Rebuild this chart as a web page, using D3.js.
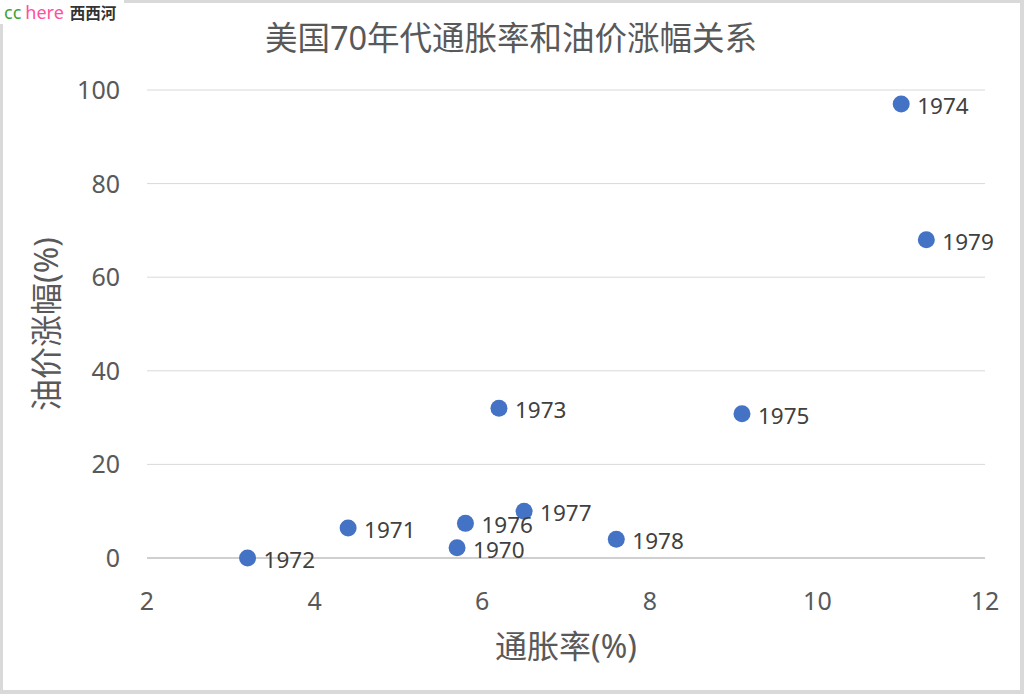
<!DOCTYPE html>
<html><head><meta charset="utf-8">
<script src="https://cdn.jsdelivr.net/npm/d3@7"></script>
<style>
html,body{margin:0;padding:0;background:#fff;}
svg{display:block;}
</style>
</head><body>
<script>
const years = ["1970","1971","1972","1973","1974","1975","1976","1977","1978","1979"];
const inflation = [5.7, 4.4, 3.2, 6.2, 11.0, 9.1, 5.8, 6.5, 7.6, 11.3];
const oilChange = [2.2, 6.4, 0.0, 32.0, 97.0, 30.8, 7.4, 10.0, 4.0, 68.0];
const xTicks = [2, 4, 6, 8, 10, 12];
const yTicks = [0, 20, 40, 60, 80, 100];
const title = "美国70年代通胀率和油价涨幅关系";
const xTitle = "通胀率(%)";
const yTitle = "油价涨幅(%)";

const W = 1024, H = 694;
const FONT = "'Noto Sans','Noto Sans CJK SC',sans-serif";
const svg = d3.select("body").append("svg").attr("width", W).attr("height", H);

// outer frame
svg.append("rect").attr("x",0).attr("y",0).attr("width",W).attr("height",H).attr("fill","#d9d9d9");
svg.append("rect").attr("x",3).attr("y",3).attr("width",1017).attr("height",687).attr("fill","#fff");

// watermark
svg.append("rect").attr("x",0).attr("y",0).attr("width",124).attr("height",24).attr("fill","#fff");
const wm = svg.append("text").attr("x",4).attr("y",19).attr("font-family",FONT).attr("font-size",18);
wm.append("tspan").attr("fill","#3aa335").text("cc");
wm.append("tspan").attr("fill","#ff4f9e").attr("dx",4).text("here");
wm.append("tspan").attr("fill","#333").attr("dx",6).attr("font-weight","bold").attr("font-size",15.5).text("西西河");

const x = d3.scaleLinear().domain([2, 12]).range([147, 985]);
const y = d3.scaleLinear().domain([0, 100]).range([558, 90]);

// gridlines
svg.append("g").selectAll("line").data(yTicks).join("line")
  .attr("x1", x(2)).attr("x2", x(12))
  .attr("y1", d => y(d)).attr("y2", d => y(d))
  .attr("stroke-width", d => d === 0 ? 1.5 : 1)
  .attr("stroke", d => d === 0 ? "#bfbfbf" : "#d9d9d9");

// y tick labels
svg.append("g").selectAll("text").data(yTicks).join("text")
  .attr("x", 120).attr("y", d => y(d)).attr("dy", "0.36em")
  .attr("text-anchor", "end").attr("font-family", FONT).attr("font-size", 25)
  .attr("fill", "#595959").text(d => d);

// x tick labels
svg.append("g").selectAll("text").data(xTicks).join("text")
  .attr("x", d => x(d)).attr("y", 610)
  .attr("text-anchor", "middle").attr("font-family", FONT).attr("font-size", 25)
  .attr("fill", "#595959").text(d => d);

// title
svg.append("text").attr("x", 511).attr("y", 50).attr("text-anchor","middle")
  .attr("font-family", FONT).attr("font-size", 32.5).attr("fill","#595959").text(title);

// axis titles
svg.append("text").attr("x", 566).attr("y", 658).attr("text-anchor","middle")
  .attr("font-family", FONT).attr("font-size", 32).attr("fill","#595959").text(xTitle);
svg.append("text").attr("transform", "translate(58,324) rotate(-90)").attr("text-anchor","middle")
  .attr("font-family", FONT).attr("font-size", 32).attr("fill","#595959").text(yTitle);

const pts = years.map((yr, i) => ({yr, xv: inflation[i], yv: oilChange[i]}));

svg.append("g").selectAll("circle").data(pts).join("circle")
  .attr("cx", d => x(d.xv)).attr("cy", d => y(d.yv)).attr("r", 8.5)
  .attr("fill", "#4472c4");

svg.append("g").selectAll("text").data(pts).join("text")
  .attr("x", d => x(d.xv) + 16).attr("y", d => y(d.yv) + 2).attr("dy", "0.36em")
  .attr("font-family", FONT).attr("font-size", 22.5).attr("fill", "#404040")
  .text(d => d.yr);
</script>
</body></html>
